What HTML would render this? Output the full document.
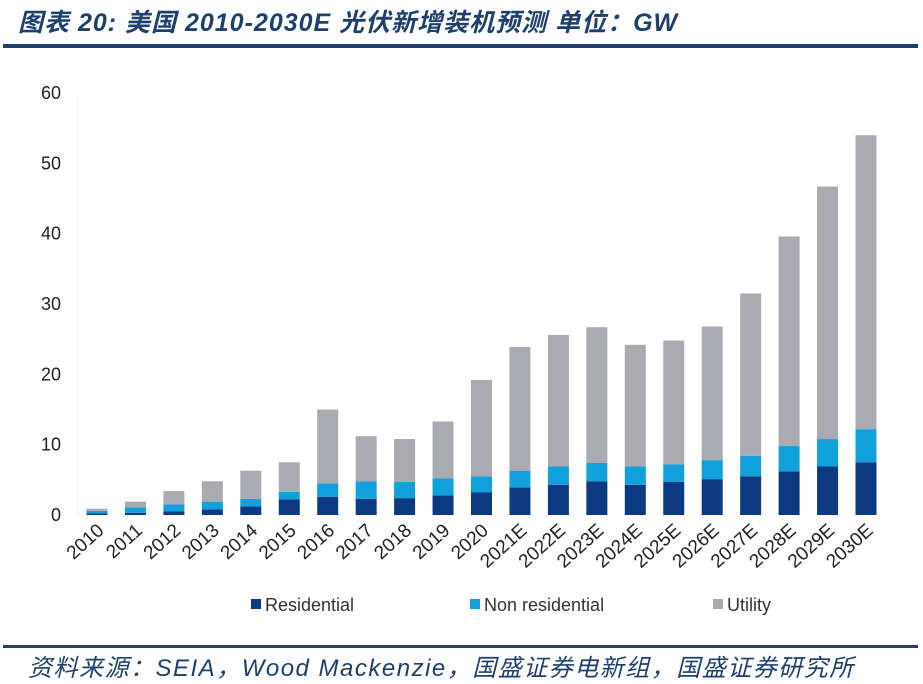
<!DOCTYPE html>
<html><head><meta charset="utf-8"><style>
body{margin:0;background:#fff;width:923px;height:684px;overflow:hidden;position:relative;font-family:"Liberation Sans","Noto Sans CJK SC",sans-serif}
.title{position:absolute;left:18px;top:3px;font-size:25px;font-weight:bold;font-style:italic;color:#1f3f6e;white-space:nowrap;letter-spacing:1px}
.line{position:absolute;left:3px;width:915px;height:4px;background:#1f3f6e}
.foot{position:absolute;left:28px;top:648px;font-size:24px;font-style:italic;color:#1f3f6e;white-space:nowrap;letter-spacing:1.5px}
</style></head><body>
<div class="title">图表 20:  美国 2010-2030E 光伏新增装机预测  单位：GW</div>
<div class="line" style="top:44px"></div>
<svg id="chart" width="923" height="684" style="position:absolute;left:0;top:0"></svg>
<div class="line" style="top:645px;height:3px"></div>
<div class="foot">资料来源：SEIA，Wood Mackenzie，国盛证券电新组，国盛证券研究所</div>
<script>
const categories=["2010","2011","2012","2013","2014","2015","2016","2017","2018","2019","2020","2021E","2022E","2023E","2024E","2025E","2026E","2027E","2028E","2029E","2030E"];
const residential=[0.25,0.3,0.5,0.8,1.2,2.2,2.6,2.3,2.4,2.8,3.2,3.9,4.3,4.8,4.3,4.7,5.1,5.5,6.2,6.9,7.5];
const nonResidential=[0.35,0.8,1.0,1.1,1.1,1.1,1.9,2.5,2.3,2.4,2.3,2.4,2.6,2.6,2.6,2.5,2.7,2.9,3.6,3.9,4.7];
const utility=[0.3,0.8,1.9,2.9,4.0,4.2,10.5,6.4,6.1,8.1,13.7,17.6,18.7,19.3,17.3,17.6,19.0,23.1,29.8,35.9,41.8];
const yTicks=[0,10,20,30,40,50,60];
const NS="http://www.w3.org/2000/svg",svg=document.getElementById('chart');
const y0=515,y60=93,yv=v=>y0-(y0-y60)*v/60;
const xc=i=>97+i*38.45,bw=21;
function mk(t,a){const e=document.createElementNS(NS,t);for(const k in a)e.setAttribute(k,a[k]);svg.appendChild(e);return e;}
const ax=mk('line',{x1:78,x2:78,y1:95,y2:515,stroke:'#eef0f3','stroke-width':1});


yTicks.forEach(t=>{const e=mk('text',{x:61,y:yv(t)+6,'text-anchor':'end','font-size':18,fill:'#222'});e.textContent=t;

});
const series=[[residential,'#0b3a82','residential'],[nonResidential,'#12a0dc','non-residential'],[utility,'#a9abb0','utility']];
categories.forEach((c,i)=>{let base=0;series.forEach(([arr,col,nm])=>{const v=arr[i];
const r=mk('rect',{x:xc(i)-bw/2,y:yv(base+v),width:bw,height:yv(base)-yv(base+v),fill:col});

base+=v;});
const tx=xc(i)+8,ty=532;const t=mk('text',{x:tx,y:ty,'text-anchor':'end','font-size':19,fill:'#222',transform:`rotate(-42 ${tx} ${ty})`});t.textContent=c;

});
const leg=[['Residential','#0b3a82',251],['Non residential','#12a0dc',470],['Utility','#a9abb0',713]];
leg.forEach(([n,col,x])=>{const r=mk('rect',{x:x,y:599,width:10,height:10,fill:col});


const t=mk('text',{x:x+14,y:611,'font-size':18,fill:'#333'});t.textContent=n;

});
</script>
</body></html>
